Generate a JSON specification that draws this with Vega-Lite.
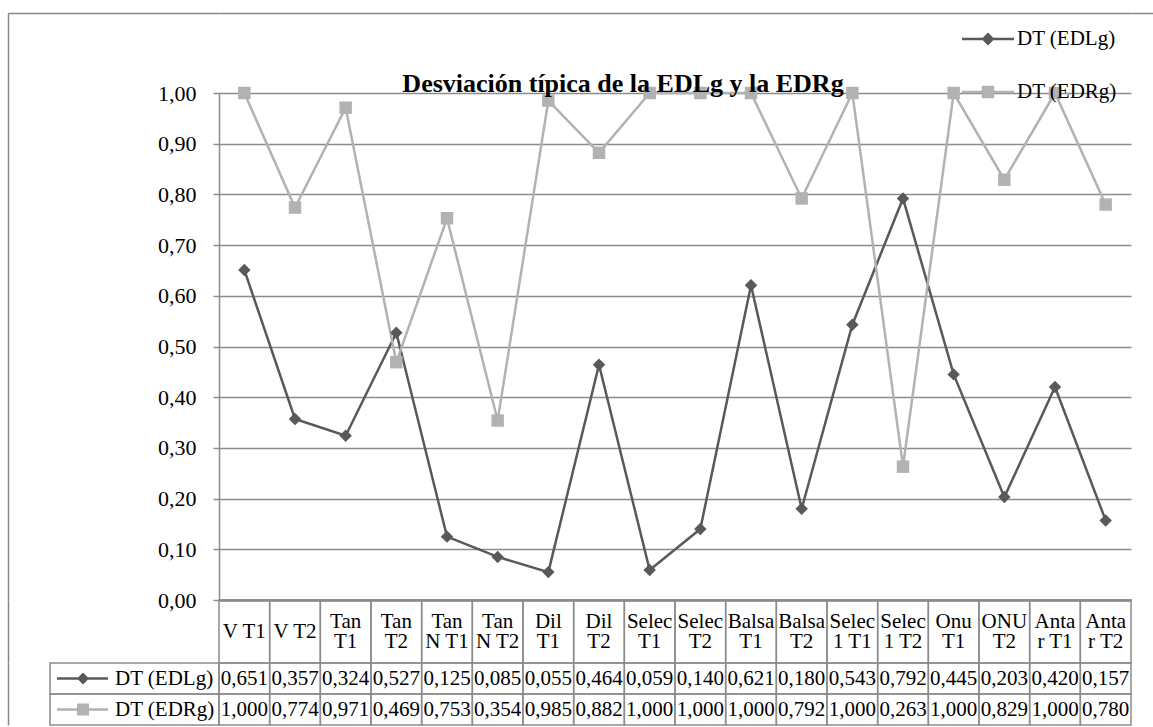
{
  "$schema": "https://vega.github.io/schema/vega-lite/v6.json",
  "padding": {"left": 8, "top": 13, "right": 0, "bottom": 0},
  "background": "white",
  "config": {
    "locale": {"number": {"decimal": ",", "thousands": ".", "grouping": [3], "currency": ["", " €"]}},
    "view": {"stroke": null},
    "font": "Liberation Serif",
    "axis": {"labelFont": "Liberation Serif"},
    "legend": {"labelFont": "Liberation Serif"},
    "text": {"font": "Liberation Serif", "color": "#000000"},
    "title": {"font": "Liberation Serif"}
  },
  "datasets": {
    "vals": [
      {"cat": "V T1", "series": "DT (EDLg)", "value": 0.651},
      {"cat": "V T2", "series": "DT (EDLg)", "value": 0.357},
      {"cat": "Tan T1", "series": "DT (EDLg)", "value": 0.324},
      {"cat": "Tan T2", "series": "DT (EDLg)", "value": 0.527},
      {"cat": "Tan N T1", "series": "DT (EDLg)", "value": 0.125},
      {"cat": "Tan N T2", "series": "DT (EDLg)", "value": 0.085},
      {"cat": "Dil T1", "series": "DT (EDLg)", "value": 0.055},
      {"cat": "Dil T2", "series": "DT (EDLg)", "value": 0.464},
      {"cat": "Selec T1", "series": "DT (EDLg)", "value": 0.059},
      {"cat": "Selec T2", "series": "DT (EDLg)", "value": 0.140},
      {"cat": "Balsa T1", "series": "DT (EDLg)", "value": 0.621},
      {"cat": "Balsa T2", "series": "DT (EDLg)", "value": 0.180},
      {"cat": "Selec 1 T1", "series": "DT (EDLg)", "value": 0.543},
      {"cat": "Selec 1 T2", "series": "DT (EDLg)", "value": 0.792},
      {"cat": "Onu T1", "series": "DT (EDLg)", "value": 0.445},
      {"cat": "ONU T2", "series": "DT (EDLg)", "value": 0.203},
      {"cat": "Antar T1", "series": "DT (EDLg)", "value": 0.420},
      {"cat": "Antar T2", "series": "DT (EDLg)", "value": 0.157},
      {"cat": "V T1", "series": "DT (EDRg)", "value": 1.000},
      {"cat": "V T2", "series": "DT (EDRg)", "value": 0.774},
      {"cat": "Tan T1", "series": "DT (EDRg)", "value": 0.971},
      {"cat": "Tan T2", "series": "DT (EDRg)", "value": 0.469},
      {"cat": "Tan N T1", "series": "DT (EDRg)", "value": 0.753},
      {"cat": "Tan N T2", "series": "DT (EDRg)", "value": 0.354},
      {"cat": "Dil T1", "series": "DT (EDRg)", "value": 0.985},
      {"cat": "Dil T2", "series": "DT (EDRg)", "value": 0.882},
      {"cat": "Selec T1", "series": "DT (EDRg)", "value": 1.000},
      {"cat": "Selec T2", "series": "DT (EDRg)", "value": 1.000},
      {"cat": "Balsa T1", "series": "DT (EDRg)", "value": 1.000},
      {"cat": "Balsa T2", "series": "DT (EDRg)", "value": 0.792},
      {"cat": "Selec 1 T1", "series": "DT (EDRg)", "value": 1.000},
      {"cat": "Selec 1 T2", "series": "DT (EDRg)", "value": 0.263},
      {"cat": "Onu T1", "series": "DT (EDRg)", "value": 1.000},
      {"cat": "ONU T2", "series": "DT (EDRg)", "value": 0.829},
      {"cat": "Antar T1", "series": "DT (EDRg)", "value": 1.000},
      {"cat": "Antar T2", "series": "DT (EDRg)", "value": 0.780}
    ],
    "cats": [
      {"cat": "V T1", "label": "V T1", "lines": 1},
      {"cat": "V T2", "label": "V T2", "lines": 1},
      {"cat": "Tan T1", "label": "Tan\nT1", "lines": 2},
      {"cat": "Tan T2", "label": "Tan\nT2", "lines": 2},
      {"cat": "Tan N T1", "label": "Tan\nN T1", "lines": 2},
      {"cat": "Tan N T2", "label": "Tan\nN T2", "lines": 2},
      {"cat": "Dil T1", "label": "Dil\nT1", "lines": 2},
      {"cat": "Dil T2", "label": "Dil\nT2", "lines": 2},
      {"cat": "Selec T1", "label": "Selec\nT1", "lines": 2},
      {"cat": "Selec T2", "label": "Selec\nT2", "lines": 2},
      {"cat": "Balsa T1", "label": "Balsa\nT1", "lines": 2},
      {"cat": "Balsa T2", "label": "Balsa\nT2", "lines": 2},
      {"cat": "Selec 1 T1", "label": "Selec\n1 T1", "lines": 2},
      {"cat": "Selec 1 T2", "label": "Selec\n1 T2", "lines": 2},
      {"cat": "Onu T1", "label": "Onu\nT1", "lines": 2},
      {"cat": "ONU T2", "label": "ONU\nT2", "lines": 2},
      {"cat": "Antar T1", "label": "Anta\nr T1", "lines": 2},
      {"cat": "Antar T2", "label": "Anta\nr T2", "lines": 2}
    ],
    "series": [
      {"series": "DT (EDLg)"},
      {"series": "DT (EDRg)"}
    ]
  },
  "columns": 3,
  "spacing": 0,
  "bounds": "flush",
  "resolve": {
    "scale": {"x": "independent", "y": "independent", "color": "independent", "shape": "independent"},
    "legend": {"color": "independent", "shape": "independent"}
  },
  "concat": [
    {
      "width": 211,
      "height": 80,
      "data": {"values": []},
      "mark": "point",
      "encoding": {
        "x": {"field": "u", "type": "quantitative", "scale": {"domain": [0, 1]}, "axis": {"orient": "top", "title": null, "labels": false, "ticks": false, "grid": false, "domainColor": "#868686", "domainWidth": 1.5}},
        "y": {"field": "v", "type": "quantitative", "scale": {"domain": [0, 1]}, "axis": {"orient": "left", "title": null, "labels": false, "ticks": false, "grid": false, "domainColor": "#868686", "domainWidth": 1.5}}
      }
    },
    {
      "width": 912,
      "height": 80,
      "data": {"values": []},
      "mark": "point",
      "encoding": {
        "x": {"field": "u", "type": "quantitative", "scale": {"domain": [0, 1]}, "axis": {"orient": "top", "title": null, "labels": false, "ticks": false, "grid": false, "domainColor": "#868686", "domainWidth": 1.5}}
      }
    },
    {
      "width": 22,
      "height": 80,
      "data": {"values": []},
      "mark": "point",
      "encoding": {
        "x": {"field": "u", "type": "quantitative", "scale": {"domain": [0, 1]}, "axis": {"orient": "top", "title": null, "labels": false, "ticks": false, "grid": false, "domainColor": "#868686", "domainWidth": 1.5}}
      }
    },
    {
      "width": 211,
      "height": 507,
      "data": {"values": []},
      "mark": "point",
      "encoding": {
        "y": {"field": "v", "type": "quantitative", "scale": {"domain": [0, 1]}, "axis": {"orient": "left", "title": null, "labels": false, "ticks": false, "grid": false, "domainColor": "#868686", "domainWidth": 1.5}}
      }
    },
    {
      "width": 912,
      "height": 507,
      "data": {"name": "vals"},
      "title": {
        "text": "Desviación típica de la EDLg y la EDRg",
        "font": "Liberation Serif",
        "fontSize": 26,
        "fontWeight": "bold",
        "color": "#000000",
        "anchor": "middle",
        "dx": -52,
        "dy": 105,
        "offset": 0,
        "baseline": "alphabetic"
      },
      "encoding": {
        "x": {
          "field": "cat",
          "type": "nominal",
          "sort": null,
          "scale": {"type": "point", "padding": 0.5},
          "axis": {"title": null, "labels": false, "ticks": false, "grid": false, "domain": true, "domainColor": "#868686", "domainWidth": 2.5}
        },
        "y": {
          "field": "value",
          "type": "quantitative",
          "scale": {"domain": [0, 1], "nice": false},
          "axis": {
            "title": null,
            "values": [0, 0.1, 0.2, 0.3, 0.4, 0.5, 0.6, 0.7, 0.8, 0.9, 1.0],
            "format": ".2f",
            "labelFont": "Liberation Serif",
            "labelFontSize": 22,
            "labelColor": "#000000",
            "labelPadding": 17,
            "tickSize": 6,
            "tickColor": "#8c8c8c",
            "tickWidth": 1.5,
            "domainColor": "#8c8c8c",
            "domainWidth": 1.5,
            "grid": true,
            "gridColor": "#8c8c8c",
            "gridWidth": 1.5
          }
        },
        "color": {
          "field": "series",
          "type": "nominal",
          "scale": {"domain": ["DT (EDLg)", "DT (EDRg)"], "range": ["#595959", "#b2b2b2"]},
          "legend": {
            "title": null,
            "orient": "none",
            "legendX": 743,
            "legendY": -80,
            "padding": 0,
            "rowPadding": 17,
            "symbolSize": 2704,
            "labelFont": "Liberation Serif",
            "labelFontSize": 21,
            "labelColor": "#000000",
            "labelOffset": 3,
            "symbolStrokeWidth": 0,
            "symbolOpacity": 1,
            "encode": {
              "symbols": {
                "update": {
                  "shape": {"signal": "datum.value === 'DT (EDLg)' ? 'M-1,-0.05H1V0.05H-1Z M0,-0.25L0.25,0L0,0.25L-0.25,0Z' : 'M-1,-0.05H1V0.05H-1Z M-0.24,-0.24H0.24V0.24H-0.24Z'"},
                  "fill": {"signal": "datum.value === 'DT (EDLg)' ? '#595959' : '#b2b2b2'"},
                  "stroke": {"value": "transparent"},
                  "opacity": {"value": 1}
                }
              }
            }
          }
        }
      },
      "layer": [
        {"mark": {"type": "line", "strokeWidth": 2.5}},
        {
          "transform": [{"filter": "datum.series === 'DT (EDLg)'"}],
          "mark": {"type": "point", "filled": true, "opacity": 1, "size": 155, "shape": "diamond"}
        },
        {
          "transform": [{"filter": "datum.series === 'DT (EDRg)'"}],
          "mark": {"type": "point", "filled": true, "opacity": 1, "size": 155, "shape": "square"}
        }
      ]
    },
    {
      "width": 22,
      "height": 507,
      "data": {"values": []},
      "mark": "point",
      "encoding": {}
    },
    {
      "width": 211,
      "height": 63,
      "data": {"values": []},
      "mark": "point",
      "encoding": {
        "y": {"field": "v", "type": "quantitative", "scale": {"domain": [0, 1]}, "axis": {"orient": "left", "title": null, "labels": false, "ticks": false, "grid": false, "domainColor": "#868686", "domainWidth": 1.5}}
      }
    },
    {
      "width": 912,
      "height": 63,
      "data": {"name": "cats"},
      "encoding": {
        "x": {"field": "cat", "type": "nominal", "sort": null, "scale": {"paddingInner": 0, "paddingOuter": 0}, "axis": null}
      },
      "layer": [
        {"mark": {"type": "rect", "fill": "white", "fillOpacity": 0, "stroke": "#8c8c8c", "strokeWidth": 1.5}},
        {
          "transform": [{"filter": "datum.lines === 2"}],
          "mark": {"type": "text", "font": "Liberation Serif", "lineBreak": "\n", "fontSize": 21, "lineHeight": 20, "baseline": "middle", "dy": -10, "color": "#000000"},
          "encoding": {"text": {"field": "label"}}
        },
        {
          "transform": [{"filter": "datum.lines === 1"}],
          "mark": {"type": "text", "font": "Liberation Serif", "fontSize": 21, "baseline": "middle", "color": "#000000"},
          "encoding": {"text": {"field": "label"}}
        }
      ]
    },
    {
      "width": 22,
      "height": 63,
      "data": {"values": []},
      "mark": "point",
      "encoding": {}
    },
    {
      "width": 211,
      "height": 62,
      "data": {"name": "series"},
      "encoding": {
        "x": {"datum": "lbl", "type": "nominal", "scale": {"type": "band", "paddingInner": 0, "paddingOuter": 0.1243, "align": 1}, "axis": null},
        "y": {"field": "series", "type": "nominal", "sort": null, "scale": {"paddingInner": 0, "paddingOuter": 0}, "axis": {"orient": "left", "title": null, "labels": false, "ticks": false, "grid": false, "domainColor": "#868686", "domainWidth": 1.5}}
      },
      "layer": [
        {"mark": {"type": "rect", "fill": "white", "fillOpacity": 0, "stroke": "#8c8c8c", "strokeWidth": 1.5}},
        {
          "mark": {"type": "point", "filled": true, "opacity": 1, "size": 2704, "strokeWidth": 0},
          "encoding": {
            "shape": {
              "field": "series",
              "type": "nominal",
              "scale": {"domain": ["DT (EDLg)", "DT (EDRg)"], "range": ["M-2.98,-0.05H-1.02V0.05H-2.98Z M-1.98,-0.23L-1.75,0L-1.98,0.23L-2.21,0Z", "M-2.98,-0.05H-1.02V0.05H-2.98Z M-2.21,-0.23H-1.75V0.23H-2.21Z"]},
              "legend": null
            },
            "color": {
              "field": "series",
              "type": "nominal",
              "scale": {"domain": ["DT (EDLg)", "DT (EDRg)"], "range": ["#595959", "#b2b2b2"]},
              "legend": null
            }
          }
        },
        {
          "mark": {"type": "text", "font": "Liberation Serif", "fontSize": 21, "align": "left", "baseline": "middle", "dx": -19.5, "color": "#000000"},
          "encoding": {"text": {"field": "series"}}
        }
      ]
    },
    {
      "width": 912,
      "height": 62,
      "data": {"name": "vals"},
      "encoding": {
        "x": {"field": "cat", "type": "nominal", "sort": null, "scale": {"paddingInner": 0, "paddingOuter": 0}, "axis": null},
        "y": {"field": "series", "type": "nominal", "sort": null, "scale": {"paddingInner": 0, "paddingOuter": 0}, "axis": null}
      },
      "layer": [
        {"mark": {"type": "rect", "fill": "white", "fillOpacity": 0, "stroke": "#8c8c8c", "strokeWidth": 1.5}},
        {
          "mark": {"type": "text", "font": "Liberation Serif", "fontSize": 21, "baseline": "middle", "color": "#000000"},
          "encoding": {"text": {"field": "value", "type": "quantitative", "format": ".3f"}}
        }
      ]
    },
    {
      "width": 22,
      "height": 62,
      "data": {"values": []},
      "mark": "point",
      "encoding": {}
    }
  ]
}
